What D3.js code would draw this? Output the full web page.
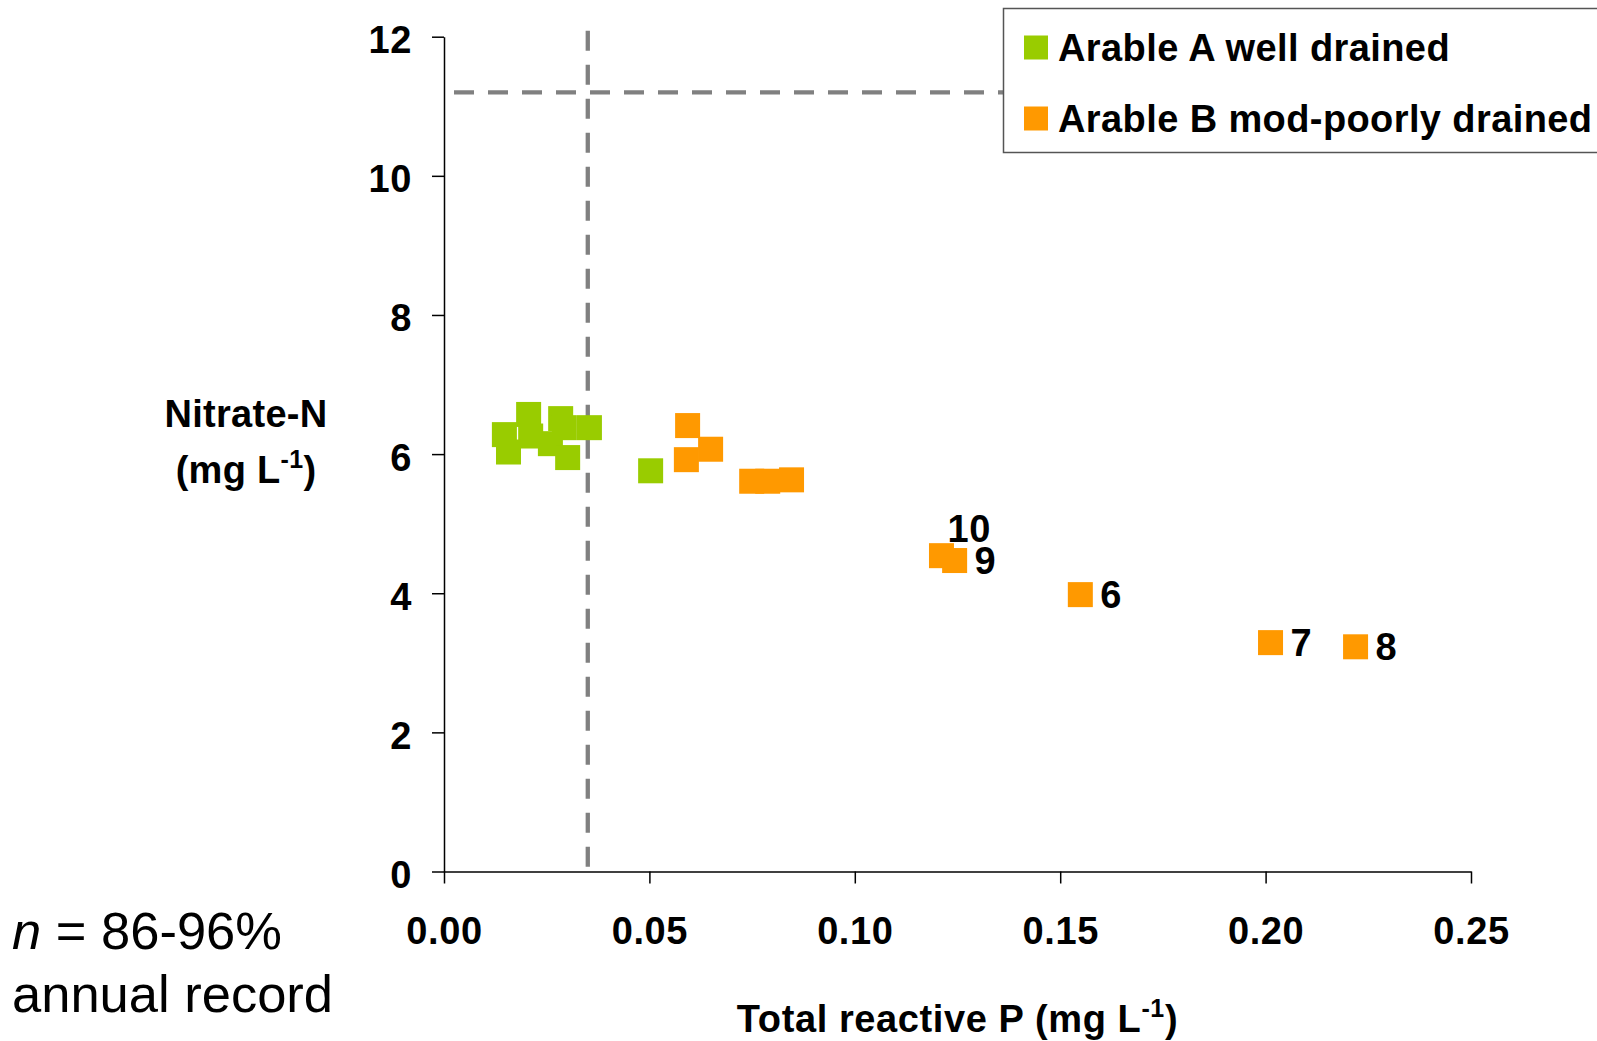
<!DOCTYPE html>
<html>
<head>
<meta charset="utf-8">
<script src="https://cdn.jsdelivr.net/npm/d3@7"></script>
<style>
  html, body { margin: 0; padding: 0; background: #fff; }
  svg { display: block; }
  text { font-family: "Liberation Sans", Arial, sans-serif; }
</style>
</head>
<body>
<svg id="chart" width="1597" height="1041"></svg>
<script>
// Total reactive P (mg L-1) and nitrate-N (mg L-1) per catchment year
const seriesNames = ["Arable A well drained", "Arable B mod-poorly drained"];
const seriesColors = ["#99CC00", "#FF9900"];

const arableA_trp     = [0.0206, 0.0284, 0.0354, 0.0293, 0.0147, 0.0211, 0.0259, 0.0157, 0.0301, 0.0503];
const arableA_nitrate = [6.57,   6.51,   6.38,   6.38,   6.28,   6.26,   6.15,   6.03,   5.95,   5.76];

const arableB_trp     = [0.0593, 0.0649, 0.0590, 0.0749, 0.0788, 0.0846, 0.1211, 0.1243, 0.1549, 0.2012, 0.2219];
const arableB_nitrate = [6.41,   6.07,   5.92,   5.61,   5.61,   5.63,   4.54,   4.47,   3.98,   3.29,   3.23];
const arableB_labels  = ["",     "",     "",     "",     "",     "",     "10",   "9",    "6",    "7",    "8"];

const xTicks = [0, 0.05, 0.10, 0.15, 0.20, 0.25];
const yTicks = [0, 2, 4, 6, 8, 10, 12];

// Reference thresholds (dashed lines)
const trpThreshold = 0.035;
const nitrateThreshold = 11.2;

const svg = d3.select("#chart");
const plot = { left: 444, right: 1471, top: 36.7, bottom: 871.5 };

const x = d3.scaleLinear().domain([0, 0.25]).range([plot.left, plot.right]);
const y = d3.scaleLinear().domain([0, 12]).range([plot.bottom, plot.top]);

const FONT = 38;
const SPACING = "0.6px";

// Threshold lines
const dashStyle = sel => sel
  .attr("stroke", "#808080")
  .attr("stroke-width", 4.3)
  .attr("stroke-dasharray", "20,14")
  .attr("fill", "none");

svg.append("line")
  .attr("x1", x(0)).attr("x2", x(0.25))
  .attr("y1", y(nitrateThreshold)).attr("y2", y(nitrateThreshold))
  .attr("stroke-dashoffset", 24)
  .call(dashStyle);

svg.append("line")
  .attr("x1", x(trpThreshold)).attr("x2", x(trpThreshold))
  .attr("y1", y(12) - 6).attr("y2", y(0))
  .call(dashStyle);

// Axes
const yAxis = d3.axisLeft(y).tickValues(yTicks).tickSize(12).tickSizeOuter(0)
  .tickPadding(20).tickFormat(d3.format("d"));
const xAxis = d3.axisBottom(x).tickValues(xTicks).tickSize(12).tickSizeOuter(0)
  .tickPadding(34).tickFormat(d3.format(".2f"));

const styleAxis = g => {
  g.select(".domain").attr("stroke", "#000").attr("stroke-width", 1.5);
  g.selectAll(".tick line").attr("stroke", "#000").attr("stroke-width", 1.5);
  g.selectAll(".tick text")
    .attr("fill", "#000")
    .style("font-family", '"Liberation Sans", Arial, sans-serif')
    .style("font-size", FONT + "px")
    .style("font-weight", "bold")
    .style("letter-spacing", SPACING);
};

svg.append("g")
  .attr("transform", `translate(${plot.left},0)`)
  .call(yAxis)
  .call(styleAxis)
  .call(g => g.selectAll(".tick text").attr("dy", "0.42em"));

svg.append("g")
  .attr("transform", `translate(0,${plot.bottom})`)
  .call(xAxis)
  .call(styleAxis);

// Markers
const SIZE = 25;
const pointsA = arableA_trp.map((v, i) => ({ x: v, y: arableA_nitrate[i] }));
const pointsB = arableB_trp.map((v, i) => ({ x: v, y: arableB_nitrate[i], label: arableB_labels[i] }));

svg.append("g").selectAll("rect").data(pointsA).join("rect")
  .attr("x", d => x(d.x) - SIZE / 2).attr("y", d => y(d.y) - SIZE / 2)
  .attr("width", SIZE).attr("height", SIZE)
  .attr("fill", seriesColors[0]);

svg.append("g").selectAll("rect").data(pointsB).join("rect")
  .attr("x", d => x(d.x) - SIZE / 2).attr("y", d => y(d.y) - SIZE / 2)
  .attr("width", SIZE).attr("height", SIZE)
  .attr("fill", seriesColors[1]);

// Point labels: to the right of the marker; "10" sits above to clear "9"
const labelOffset = d => d.label === "10" ? [6, -14] : [20, 13.5];
svg.append("g").selectAll("text").data(pointsB.filter(d => d.label)).join("text")
  .attr("x", d => x(d.x) + labelOffset(d)[0])
  .attr("y", d => y(d.y) + labelOffset(d)[1])
  .attr("font-size", FONT).attr("font-weight", "bold").attr("fill", "#000")
  .style("letter-spacing", SPACING)
  .text(d => d.label);

// Axis titles
const xTitle = svg.append("text")
  .attr("x", (plot.left + plot.right) / 2).attr("y", 1032)
  .attr("text-anchor", "middle")
  .attr("font-size", FONT).attr("font-weight", "bold")
  .style("letter-spacing", SPACING);
xTitle.append("tspan").text("Total reactive P (mg L");
xTitle.append("tspan").attr("font-size", 25).attr("dy", -15).text("-1");
xTitle.append("tspan").attr("dy", 15).text(")");

const yTitle = svg.append("g").attr("font-size", FONT).attr("font-weight", "bold")
  .style("letter-spacing", "0.3px");
yTitle.append("text").attr("x", 246).attr("y", 427).attr("text-anchor", "middle").text("Nitrate-N");
const yUnit = yTitle.append("text").attr("x", 246).attr("y", 483).attr("text-anchor", "middle");
yUnit.append("tspan").text("(mg L");
yUnit.append("tspan").attr("font-size", 25).attr("dy", -15).text("-1");
yUnit.append("tspan").attr("dy", 15).text(")");

// Record coverage note
const note = svg.append("g").attr("font-size", 52.5).attr("fill", "#000");
const line1 = note.append("text").attr("x", 12).attr("y", 949);
line1.append("tspan").attr("font-style", "italic").text("n");
line1.append("tspan").text(" = 86-96%");
note.append("text").attr("x", 12).attr("y", 1012).text("annual record");

// Legend
const legend = svg.append("g");
legend.append("rect")
  .attr("x", 1003.5).attr("y", 8.5).attr("width", 640).attr("height", 144)
  .attr("fill", "#fff").attr("stroke", "#555").attr("stroke-width", 1.5);
const legendRows = [47.5, 118.5];
seriesNames.forEach((name, i) => {
  legend.append("rect")
    .attr("x", 1024).attr("y", legendRows[i] - 12)
    .attr("width", 24).attr("height", 24)
    .attr("fill", seriesColors[i]);
  legend.append("text")
    .attr("x", 1058).attr("y", legendRows[i] + 13.5)
    .attr("font-size", FONT).attr("font-weight", "bold").attr("fill", "#000")
    .style("letter-spacing", "0.4px")
    .text(name);
});
</script>
</body>
</html>
